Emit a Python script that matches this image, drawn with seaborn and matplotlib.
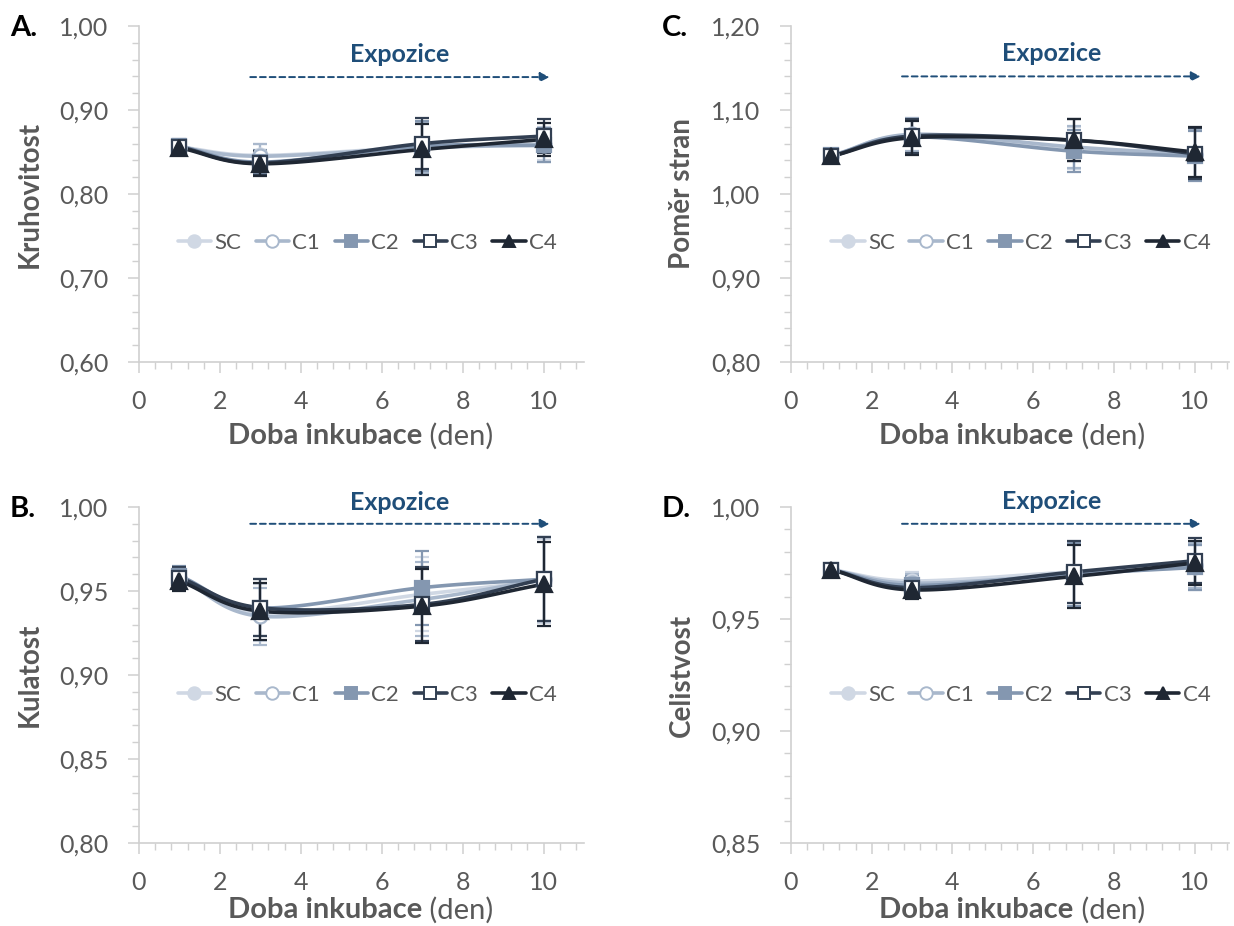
import numpy as np
import pandas as pd
import matplotlib
matplotlib.use("Agg")
import matplotlib.pyplot as plt
import seaborn as sns
from matplotlib.ticker import MultipleLocator, FuncFormatter
from matplotlib.lines import Line2D

# ---------------- data ----------------
days = [1, 3, 7, 10]
series = ["SC", "C1", "C2", "C3", "C4"]

# A. Kruhovitost
kruh_SC = [0.856, 0.846, 0.856, 0.860]
kruh_C1 = [0.855, 0.845, 0.855, 0.858]
kruh_C2 = [0.857, 0.838, 0.857, 0.858]
kruh_C3 = [0.856, 0.837, 0.860, 0.869]
kruh_C4 = [0.855, 0.836, 0.853, 0.865]
kruh_err = [0.008, 0.014, 0.030, 0.020]

# B. Kulatost
kul_SC = [0.957, 0.937, 0.948, 0.956]
kul_C1 = [0.958, 0.935, 0.945, 0.957]
kul_C2 = [0.959, 0.940, 0.952, 0.957]
kul_C3 = [0.958, 0.940, 0.942, 0.957]
kul_C4 = [0.956, 0.938, 0.941, 0.954]
kul_err = [0.006, 0.017, 0.022, 0.025]

# C. Poměr stran
pom_SC = [1.046, 1.070, 1.055, 1.048]
pom_C1 = [1.045, 1.071, 1.056, 1.047]
pom_C2 = [1.046, 1.068, 1.051, 1.045]
pom_C3 = [1.045, 1.069, 1.064, 1.048]
pom_C4 = [1.045, 1.067, 1.064, 1.050]
pom_err = [0.007, 0.020, 0.025, 0.030]

# D. Celistvost
cel_SC = [0.972, 0.967, 0.971, 0.973]
cel_C1 = [0.972, 0.966, 0.970, 0.974]
cel_C2 = [0.972, 0.965, 0.970, 0.973]
cel_C3 = [0.972, 0.964, 0.971, 0.976]
cel_C4 = [0.972, 0.963, 0.969, 0.975]
cel_err = [0.002, 0.004, 0.014, 0.010]

panels = [
    dict(letter="A.", ylabel="Kruhovitost", ylim=(0.60, 1.00), major=0.10, minor=0.02,
         vals=[kruh_SC, kruh_C1, kruh_C2, kruh_C3, kruh_C4], err=kruh_err),
    dict(letter="B.", ylabel="Kulatost", ylim=(0.80, 1.00), major=0.05, minor=0.01,
         vals=[kul_SC, kul_C1, kul_C2, kul_C3, kul_C4], err=kul_err),
    dict(letter="C.", ylabel="Poměr stran", ylim=(0.80, 1.20), major=0.10, minor=0.02,
         vals=[pom_SC, pom_C1, pom_C2, pom_C3, pom_C4], err=pom_err),
    dict(letter="D.", ylabel="Celistvost", ylim=(0.85, 1.00), major=0.05, minor=0.01,
         vals=[cel_SC, cel_C1, cel_C2, cel_C3, cel_C4], err=cel_err),
]

# ---------------- style ----------------
sns.set_theme(style="white")
plt.rcParams["font.family"] = ["Lato", "DejaVu Sans"]

colors = {"SC": "#d0d8e4", "C1": "#a9b8cc", "C2": "#8497b0", "C3": "#323f52", "C4": "#1f2733"}
markers = {"SC": "o", "C1": "o", "C2": "s", "C3": "s", "C4": "^"}
filled = {"SC": True, "C1": False, "C2": True, "C3": False, "C4": True}
grey = "#595959"
spine_c = "#d0d0d0"
expo_c = "#1f4e79"


def smooth(x, y, n=40):
    """Catmull-Rom smoothing through points (like Excel smoothed lines)."""
    P = np.column_stack([x, y]).astype(float)
    P = np.vstack([P[0] - (P[1] - P[0]), P, P[-1] + (P[-1] - P[-2])])
    out = []
    t = np.linspace(0, 1, n)
    for i in range(1, len(P) - 2):
        p0, p1, p2, p3 = P[i - 1], P[i], P[i + 1], P[i + 2]
        tt = t[:, None]
        seg = 0.5 * ((2 * p1) + (-p0 + p2) * tt + (2 * p0 - 5 * p1 + 4 * p2 - p3) * tt ** 2
                     + (-p0 + 3 * p1 - 3 * p2 + p3) * tt ** 3)
        out.append(seg if i == 1 else seg[1:])
    S = np.vstack(out)
    return S[:, 0], S[:, 1]


fig = plt.figure(figsize=(12.34, 9.26), dpi=100)
W, H = 1234, 926
boxes = {  # left, top, right, bottom in pixels ; xmax
    "A.": (139, 26, 584, 362, 11.0),
    "B.": (139, 507, 584, 843, 11.0),
    "C.": (791, 26, 1229, 362, 10.85),
    "D.": (791, 507, 1229, 843, 10.85),
}
legend_y = {"A.": 0.354, "B.": 0.44, "C.": 0.354, "D.": 0.44}
legend_x = {"A.": 0.513, "B.": 0.513, "C.": 0.525, "D.": 0.525}
arrow_y = {"A.": 0.848, "B.": 0.95, "C.": 0.85, "D.": 0.95}
text_y = {"A.": 0.915, "B.": 1.012, "C.": 0.918, "D.": 1.015}
xlabel_y = {"A.": -0.22, "B.": -0.2, "C.": -0.22, "D.": -0.2}

for p in panels:
    l, t, r, b, xmax = boxes[p["letter"]]
    ax = fig.add_axes([l / W, 1 - b / H, (r - l) / W, (b - t) / H])

    rows = []
    for s, v in zip(series, p["vals"]):
        xs, ys = smooth(days, v)
        for xx, yy in zip(xs, ys):
            rows.append(dict(x=xx, y=yy, series=s))
    df = pd.DataFrame(rows)
    sns.lineplot(data=df, x="x", y="y", hue="series", palette=colors, sort=False,
                 estimator=None, linewidth=2.6, ax=ax, legend=False)

    for s, v in zip(series, p["vals"]):
        c = colors[s]
        ax.errorbar(days, v, yerr=p["err"], fmt="none", ecolor=c, elinewidth=1.6,
                    capsize=5, capthick=1.6, zorder=3)
        ax.plot(days, v, linestyle="none", marker=markers[s],
                markersize=10 if markers[s] != "^" else 11,
                markerfacecolor=c if filled[s] else "white",
                markeredgecolor=c, markeredgewidth=1.6, zorder=4)

    ax.set_xlim(0, xmax)
    ax.set_ylim(*p["ylim"])
    ax.xaxis.set_major_locator(MultipleLocator(2))
    ax.xaxis.set_minor_locator(MultipleLocator(0.4))
    ax.yaxis.set_major_locator(MultipleLocator(p["major"]))
    ax.yaxis.set_minor_locator(MultipleLocator(p["minor"]))
    ax.yaxis.set_major_formatter(FuncFormatter(lambda v, pos: f"{v:.2f}".replace(".", ",")))
    ax.xaxis.set_major_formatter(FuncFormatter(lambda v, pos: f"{v:.0f}" if v <= 10 else ""))

    for side in ["top", "right"]:
        ax.spines[side].set_visible(False)
    for side in ["left", "bottom"]:
        ax.spines[side].set_color(spine_c)
        ax.spines[side].set_linewidth(1.2)
    ax.tick_params(which="major", direction="out", length=8, width=1.1, color=spine_c,
                   labelsize=18, labelcolor=grey, left=True, bottom=True)
    ax.tick_params(which="minor", direction="out", length=5, width=1.0, color=spine_c,
                   left=True, bottom=True)
    ax.tick_params(axis="y", pad=14)
    ax.tick_params(axis="x", pad=12)

    ax.set_xlabel("")
    ax.set_ylabel(p["ylabel"], fontsize=20, fontweight="bold", color=grey, labelpad=12)
    xt = ax.get_xaxis_transform()
    yl = xlabel_y[p["letter"]]
    ax.text(7.0, yl, "Doba inkubace", transform=xt, ha="right", va="center",
            fontsize=21, fontweight="bold", color=grey)
    ax.text(7.0, yl, " (den)", transform=xt, ha="left", va="center",
            fontsize=21, color=grey)

    # panel letter
    fig.text((l - 129) / W, 1 - (t + 2) / H, p["letter"], fontsize=21, fontweight="bold",
             color="black", ha="left", va="center")

    # Expozice arrow
    ya = arrow_y[p["letter"]]
    ax.annotate("", xy=(10.15, ya), xytext=(2.75, ya),
                xycoords=("data", "axes fraction"), textcoords=("data", "axes fraction"),
                arrowprops=dict(arrowstyle="-|>", linestyle=(0, (3, 2)), color=expo_c,
                                lw=1.4, mutation_scale=14, shrinkA=0, shrinkB=0))
    ax.text(6.45, text_y[p["letter"]], "Expozice", transform=xt,
            ha="center", va="center", fontsize=18, fontweight="bold", color=expo_c)

    handles = [Line2D([0], [0], color=colors[s], lw=2.6, marker=markers[s], markersize=9,
                      markerfacecolor=colors[s] if filled[s] else "white",
                      markeredgecolor=colors[s], markeredgewidth=1.4) for s in series]
    ax.legend(handles, series, loc="center",
              bbox_to_anchor=(legend_x[p["letter"]], legend_y[p["letter"]]),
              ncol=5, frameon=False, fontsize=16, handlelength=1.5, handletextpad=0.15,
              columnspacing=0.65, labelcolor=grey)

fig.savefig("out.png", dpi=100, facecolor="white")
